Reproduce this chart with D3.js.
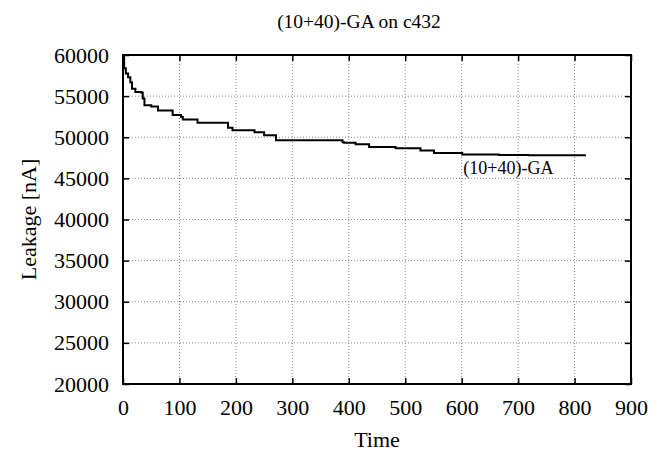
<!DOCTYPE html>
<html>
<head>
<meta charset="utf-8">
<script src="https://cdn.jsdelivr.net/npm/d3@7"></script>
<style>
  html, body { margin: 0; padding: 0; background: #fff; }
  svg { display: block; }
  svg text { font-family: "Liberation Serif", "Times New Roman", Times, serif !important; fill: #000; }
</style>
</head>
<body>
<script>
// ---- data ----
const title = "(10+40)-GA on c432";
const xLabel = "Time";
const yLabel = "Leakage [nA]";
const seriesName = "(10+40)-GA";
const xTicks = [0, 100, 200, 300, 400, 500, 600, 700, 800, 900];
const yTicks = [20000, 25000, 30000, 35000, 40000, 45000, 50000, 55000, 60000];
const times = [0, 2, 5, 9, 13, 16, 22, 33, 35, 38, 50, 62, 88, 103, 106, 132, 186, 194, 233, 250, 271, 389, 392, 412, 436, 483, 527, 551, 601, 666, 718, 820];
const leakage = [60000, 58400, 57750, 57300, 56700, 55900, 55500, 55400, 54700, 53900, 53750, 53250, 52700, 52450, 52150, 51750, 51150, 50850, 50600, 50250, 49650, 49400, 49330, 49150, 48800, 48650, 48400, 48100, 47900, 47850, 47800, 47800];

// ---- layout ----
const W = 669, H = 453;
const margin = {left: 123, right: 38, top: 55, bottom: 69};
const iw = W - margin.left - margin.right;
const ih = H - margin.top - margin.bottom;

const svg = d3.select("body").append("svg").attr("width", W).attr("height", H);
const g = svg.append("g").attr("transform", `translate(${margin.left},${margin.top})`);

const x = d3.scaleLinear().domain([0, 900]).range([0, iw]);
const y = d3.scaleLinear().domain([20000, 60000]).range([ih, 0]);

// grid
const grid = g.append("g").attr("class", "grid");
grid.selectAll("line.vx").data(xTicks.slice(1, -1)).join("line")
  .attr("x1", d => x(d)).attr("x2", d => x(d)).attr("y1", 0).attr("y2", ih)
  .attr("stroke", "#888").attr("stroke-width", 1).attr("stroke-dasharray", "1,2");
grid.selectAll("line.hy").data(yTicks.slice(1, -1)).join("line")
  .attr("y1", d => y(d)).attr("y2", d => y(d)).attr("x1", 0).attr("x2", iw)
  .attr("stroke", "#888").attr("stroke-width", 1).attr("stroke-dasharray", "1,2");

// axes (inward ticks, mirrored)
const fs = 22;
const fmt = d3.format("d");
const xAxis = g.append("g").attr("transform", `translate(0,${ih})`)
  .call(d3.axisBottom(x).tickValues(xTicks).tickFormat(fmt).tickSizeInner(-6).tickSizeOuter(0).tickPadding(15));
const yAxis = g.append("g")
  .call(d3.axisLeft(y).tickValues(yTicks).tickFormat(fmt).tickSizeInner(-6).tickSizeOuter(0).tickPadding(14));
g.append("g")
  .call(d3.axisTop(x).tickValues(xTicks).tickSizeInner(-6).tickSizeOuter(0).tickFormat(""));
g.append("g").attr("transform", `translate(${iw},0)`)
  .call(d3.axisRight(y).tickValues(yTicks).tickSizeInner(-6).tickSizeOuter(0).tickFormat(""));
svg.selectAll(".domain").remove();
svg.selectAll(".tick line").attr("stroke", "#000").attr("stroke-width", 1.5);
svg.selectAll("g").filter(function() { return this.hasAttribute("font-size"); })
  .attr("font-size", fs);

// frame
g.append("rect").attr("x", 0).attr("y", 0).attr("width", iw).attr("height", ih)
  .attr("fill", "none").attr("stroke", "#000").attr("stroke-width", 2);

// series
const data = times.map((t, i) => ({t, v: leakage[i]}));
const line = d3.line().x(d => x(d.t)).y(d => y(d.v)).curve(d3.curveStepAfter);
g.append("path").datum(data).attr("d", line)
  .attr("fill", "none").attr("stroke", "#000").attr("stroke-width", 2);

// series label
g.append("text").attr("x", x(603)).attr("y", y(47800) + 19)
  .attr("font-size", 18).text(seriesName);

// titles
svg.append("text").attr("x", 359).attr("y", 28).attr("text-anchor", "middle")
  .attr("font-size", 19.5).text(title);
svg.append("text").attr("x", margin.left + iw / 2).attr("y", 447).attr("text-anchor", "middle")
  .attr("font-size", fs).text(xLabel);
svg.append("text").attr("transform", `translate(36,${margin.top + ih / 2}) rotate(-90)`)
  .attr("text-anchor", "middle").attr("font-size", fs).text(yLabel);
</script>
</body>
</html>
